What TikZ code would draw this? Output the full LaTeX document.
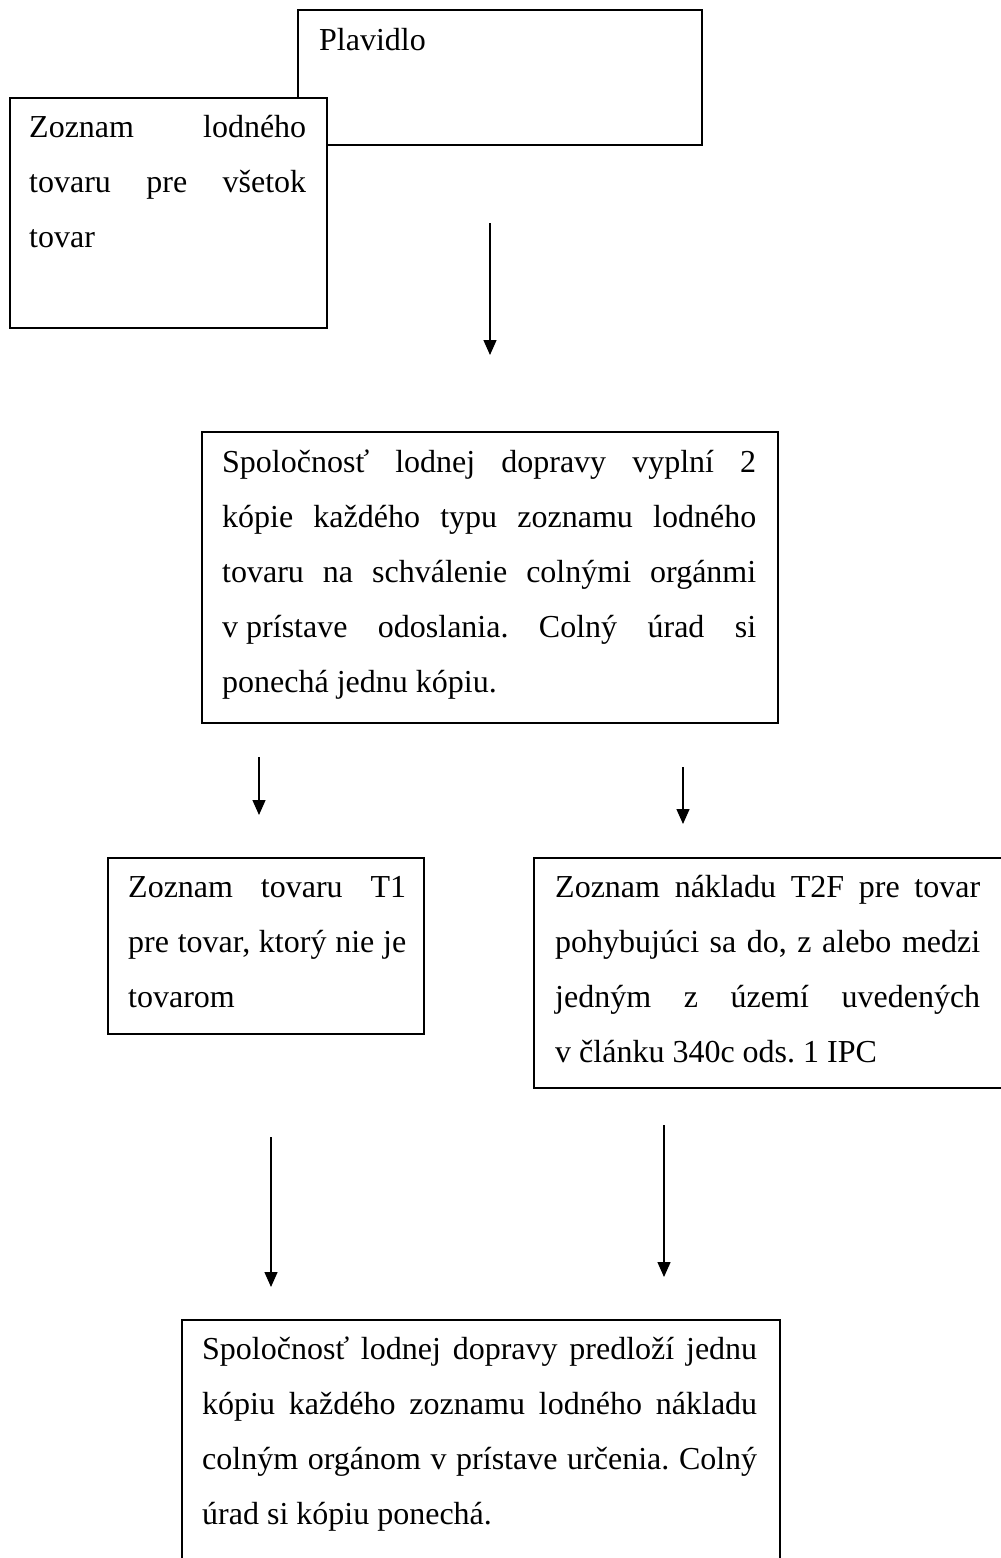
\documentclass[tikz,border=0pt]{standalone}
\usepackage{fontspec}
\setmainfont{Liberation Serif}
\usetikzlibrary{arrows.meta}

% justified paragraph whose baseline is the baseline of its first line
\newcommand\flowtext[2]{\vtop{\hsize=#1\relax\parindent=0pt\parskip=0pt%
  \tolerance=10000\hbadness=10000\hyphenpenalty=10000\frenchspacing%
  \fontsize{32pt}{55pt}\selectfont #2\par}}

\begin{document}
\begin{tikzpicture}[x=1pt,y=-1pt,
  box/.style={draw, line width=1.6pt, rectangle, inner sep=0pt, anchor=north west, fill=white},
  txt/.style={anchor=base west, inner sep=0pt},
  arr/.style={-{Triangle[length=15pt,width=13pt]}, line width=1.4pt}]
\useasboundingbox (0,0) rectangle (1001,1558);
\clip (0,0) rectangle (1001,1558);

% top pair of overlapping boxes
\node[box, minimum width=404pt, minimum height=135pt] (plavidlo) at (297,9) {};
\node[txt] (plavidloT) at (319,50) {\flowtext{300pt}{Plavidlo}};
\node[box, minimum width=317pt, minimum height=230pt] (zoznam) at (9,97) {};
\node[txt] (zoznamT) at (29,137) {\flowtext{277pt}{Zoznam lodného\linebreak
  tovaru pre všetok\linebreak tovar}};

% first processing step
\node[box, minimum width=576pt, minimum height=291pt] (spol1) at (201,431) {};
\node[txt] (spol1T) at (222,472) {\flowtext{534pt}{Spoločnosť lodnej dopravy vyplní 2\linebreak
  kópie každého typu zoznamu lodného\linebreak
  tovaru na schválenie colnými orgánmi\linebreak
  \mbox{v prístave} odoslania. Colný úrad si\linebreak
  ponechá jednu kópiu.}};

% the two kinds of list
\node[box, minimum width=316pt, minimum height=176pt] (t1) at (107,857) {};
\node[txt] (t1T) at (128,897) {\flowtext{278pt}{Zoznam tovaru T1\linebreak
  pre tovar, ktorý nie je\linebreak tovarom}};
\node[box, minimum width=472pt, minimum height=230pt] (t2f) at (533,857) {};
\node[txt] (t2fT) at (555,897) {\flowtext{425pt}{Zoznam nákladu T2F pre tovar\linebreak
  pohybujúci sa do, z alebo medzi\linebreak
  jedným z území uvedených\linebreak
  v článku 340c ods. 1 IPC}};

% final step, open at the bottom edge
\node[box, minimum width=598pt, minimum height=300pt] (spol2) at (181,1319) {};
\node[txt] (spol2T) at (202,1359) {\flowtext{555pt}{Spoločnosť lodnej dopravy predloží jednu\linebreak
  kópiu každého zoznamu lodného nákladu\linebreak
  colným orgánom v prístave určenia. Colný\linebreak
  úrad si kópiu ponechá.}};

% free-standing arrows
\coordinate (a1s) at (490,223);  \coordinate (a1e) at (490,355);
\coordinate (a2ls) at (259,757); \coordinate (a2le) at (259,815);
\coordinate (a2rs) at (683,767); \coordinate (a2re) at (683,824);
\coordinate (a3ls) at (271,1137); \coordinate (a3le) at (271,1287);
\coordinate (a3rs) at (664,1125); \coordinate (a3re) at (664,1277);
\draw[arr] (a1s) -- (a1e);
\draw[arr] (a2ls) -- (a2le);
\draw[arr] (a2rs) -- (a2re);
\draw[arr] (a3ls) -- (a3le);
\draw[arr] (a3rs) -- (a3re);
\end{tikzpicture}
\end{document}
